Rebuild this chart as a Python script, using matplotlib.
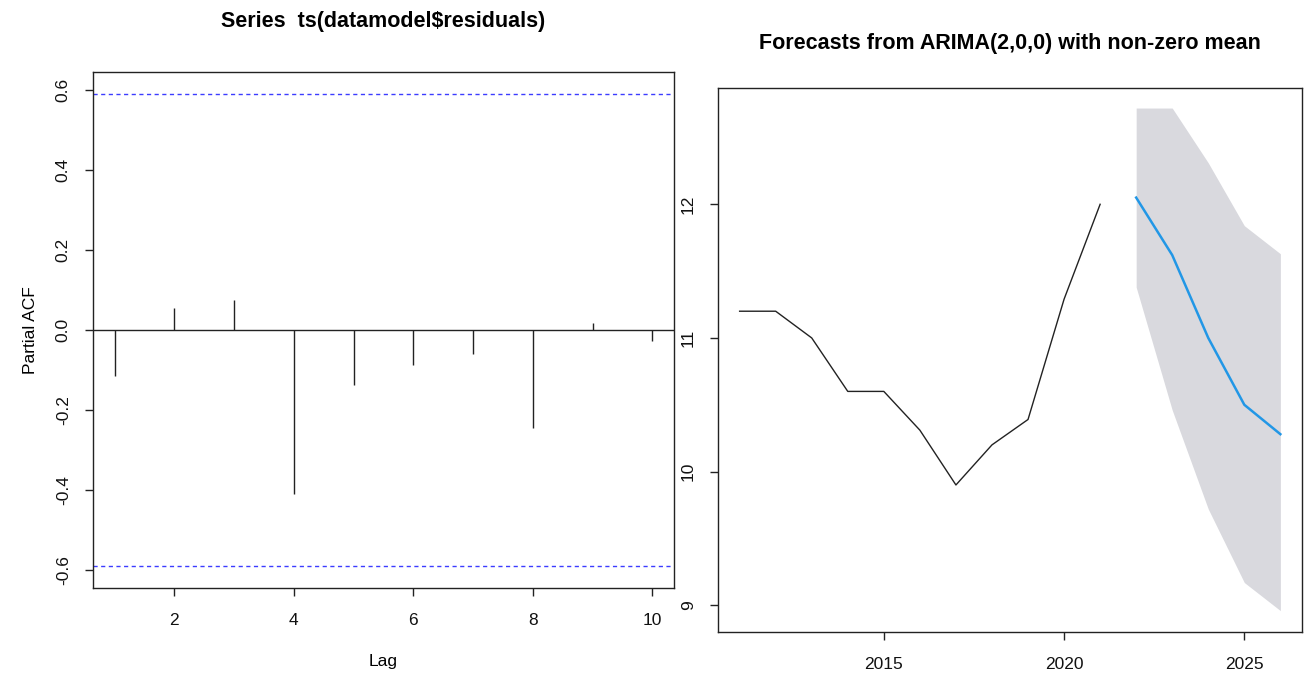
import matplotlib.pyplot as plt
import numpy as np

plt.rcParams['font.family'] = ['Liberation Sans', 'DejaVu Sans']

# PACF of model residuals
lags = [1, 2, 3, 4, 5, 6, 7, 8, 9, 10]
pacf = [-0.114, 0.055, 0.076, -0.409, -0.137, -0.088, -0.059, -0.246, 0.018, -0.028]
n_obs = 11
conf = 1.96 / np.sqrt(n_obs)

# observed series
years = [2011, 2012, 2013, 2014, 2015, 2016, 2017, 2018, 2019, 2020, 2021]
values = [11.2, 11.2, 11.0, 10.6, 10.6, 10.31, 9.9, 10.2, 10.39, 11.29, 12.0]

# forecasts
fc_years = [2022, 2023, 2024, 2025, 2026]
fc_mean = [12.05, 11.62, 11.0, 10.5, 10.28]
fc_lower = [11.38, 10.46, 9.72, 9.17, 8.96]
fc_upper = [12.72, 12.72, 12.31, 11.84, 11.63]

W, H = 1308, 675
fig = plt.figure(figsize=(W / 100, H / 100), dpi=100)

def box(x0, y0, x1, y1):
    return [x0 / W, 1 - y1 / H, (x1 - x0) / W, (y1 - y0) / H]

def r_style(ax):
    for s in ax.spines.values():
        s.set_linewidth(1.0)
        s.set_color('#222222')
    ax.tick_params(direction='out', length=6, width=1.0, color='#222222',
                   labelsize=12.5, labelcolor='#111111')

# left: partial ACF
ax1 = fig.add_axes(box(93, 72, 674, 588))
r_style(ax1)
ax1.vlines(lags, 0, pacf, color='#222222', lw=1.0)
ax1.axhline(0, color='#222222', lw=1.0)
ax1.axhline(conf, color='#3c3cff', lw=1.0, ls=(0, (3, 2.5)))
ax1.axhline(-conf, color='#3c3cff', lw=1.0, ls=(0, (3, 2.5)))
ax1.set_xlim(0.64, 10.36)
ax1.set_ylim(-0.645, 0.645)
ax1.set_xticks([2, 4, 6, 8, 10])
ax1.set_yticks([-0.6, -0.4, -0.2, 0.0, 0.2, 0.4, 0.6])
ax1.set_yticklabels(['-0.6', '-0.4', '-0.2', '0.0', '0.2', '0.4', '0.6'],
                    rotation=90, va='center')
ax1.tick_params(axis='x', pad=12)
ax1.tick_params(axis='y', pad=10)
ax1.set_xlabel('Lag', fontsize=12.5, labelpad=19)
ax1.set_ylabel('Partial ACF', fontsize=12.5, labelpad=13)

fig.text(383 / W, 1 - 22 / H, 'Series  ts(datamodel$residuals)', ha='center',
         va='center', fontsize=15.5, fontweight='bold')

# right: forecasts
ax2 = fig.add_axes(box(718, 88, 1302, 632))
r_style(ax2)
ax2.fill_between(fc_years, fc_lower, fc_upper, color='#d9d9de', lw=0)
ax2.plot(years, values, color='#222222', lw=1.0)
ax2.plot(fc_years, fc_mean, color='#2297e6', lw=1.8)
ax2.set_xlim(2010.4, 2026.6)
ax2.set_ylim(8.80, 12.87)
ax2.set_xticks([2015, 2020, 2025])
ax2.set_yticks([9, 10, 11, 12])
ax2.set_yticklabels(['9', '10', '11', '12'], rotation=90, va='center')
ax2.tick_params(axis='x', pad=12)
ax2.tick_params(axis='y', pad=10)

fig.text(1010 / W, 1 - 43 / H, 'Forecasts from ARIMA(2,0,0) with non-zero mean',
         ha='center', va='center', fontsize=15.5, fontweight='bold')

fig.savefig('out.png', dpi=100)
